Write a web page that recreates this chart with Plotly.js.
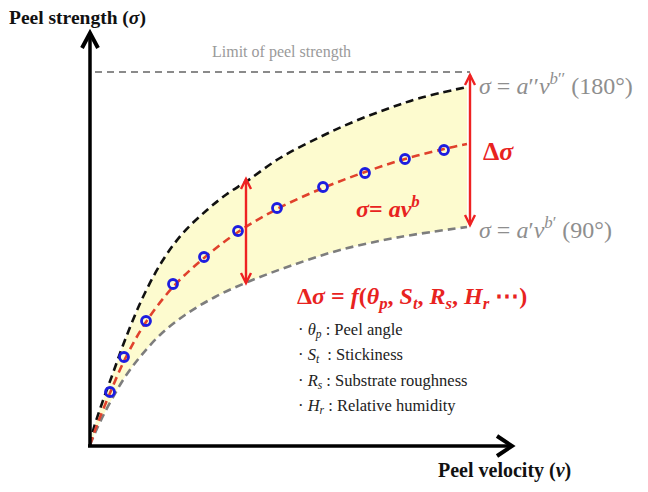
<!DOCTYPE html>
<html><head><meta charset="utf-8">
<script src="https://cdn.plot.ly/plotly-3.0.1.min.js"></script>
<style>html,body{margin:0;padding:0;background:#fff}#chart{width:648px;height:492px}</style>
</head><body><div id="chart"></div>
<script>
// Values in diagram units: velocity (v) and peel strength (sigma), origin at axes corner
const upperV = [0, 3, 10, 23, 35, 53, 73, 93, 117, 137, 157, 190, 230, 263, 297, 330, 377];
const upperS = [0, 14, 36, 72, 105, 148, 185, 212, 235, 251, 264, 287, 308, 323, 336, 347, 358];
const lowerV = [0, 5, 12, 22, 35, 50, 70, 95, 125, 160, 200, 250, 310, 377];
const lowerS = [0, 12, 27, 46, 68, 88, 110, 130, 148, 164, 179, 195, 208, 218];
const fitV = [0, 7, 20, 36, 56, 83, 114, 148, 187, 233, 275, 315, 354, 377];
const fitS = [0, 20, 52, 88, 123, 158, 187, 213, 236, 257, 273, 286, 296, 301];
const dataV = [20, 34, 56, 83, 114, 148, 187, 233, 275, 315, 354];
const dataS = [53, 88, 124, 161, 188, 214, 237, 258, 272, 286, 295];
const limitV = [5, 380];
const limitS = [373, 373];
// delta-sigma arrows: [v, top, bottom]
const deltaMid = [156, 266, 162];
const deltaEnd = [380, 370, 220];

const serif = "Liberation Serif";
const grayT = "#8e8e8e";
const redT = "#e8231f";

const traces = [
  {x: limitV, y: limitS, mode: 'lines', line: {color: '#8a8a8a', width: 2, dash: '7px,5px'}, showlegend: false},
  {x: lowerV, y: lowerS, mode: 'lines', line: {color: '#7d7d7d', width: 2.6, dash: '8px,5px', shape: 'spline'}, showlegend: false},
  {x: upperV, y: upperS, mode: 'lines', fill: 'tonexty', fillcolor: '#fdfbcf', line: {color: '#111', width: 2.6, dash: '8px,5px', shape: 'spline'}, showlegend: false},
  {x: fitV, y: fitS, mode: 'lines', line: {color: '#e0412c', width: 2.6, dash: '8px,5px', shape: 'spline'}, showlegend: false},
  {x: dataV, y: dataS, mode: 'markers', marker: {symbol: 'circle-open', size: 9, color: '#1d1de0', line: {width: 2.8, color: '#1d1de0'}}, showlegend: false}
];

const ann = [];
function txt(x, y, text, size, color, anchor){
  ann.push({x:x, y:y, xref:'x', yref:'y', text:text, showarrow:false, xanchor: anchor||'left', yanchor:'middle', font:{family: serif, size:size, color:color}});
}
txt(-83, 427, '<b>Peel strength (<i>σ</i>)</b>', 19.5, '#111');
txt(191, 393, 'Limit of peel strength', 16, '#9a9a9a', 'center');
txt(387, 361, '<i>σ</i> = <i>a</i>′′<i>v</i><sup><i>b</i>′′</sup> (180°)', 24, grayT);
txt(391, 294, '<b>Δ<i>σ</i></b>', 26, redT);
txt(264, 238, '<b><i>σ</i>= <i>av</i><sup><i>b</i></sup></b>', 24, redT);
txt(387, 217, '<i>σ</i> = <i>a</i>′<i>v</i><sup><i>b</i>′</sup> (90°)', 24, grayT);
txt(205, 147, '<b>Δ<i>σ</i> = <i>f</i>(<i>θ</i><sub><i>p</i></sub>, <i>S</i><sub><i>t</i></sub>, <i>R</i><sub><i>s</i></sub>, <i>H</i><sub><i>r</i></sub> ⋯)</b>', 24, redT);
txt(206, 115, '· <i>θ</i><sub><i>p</i></sub> : Peel angle', 16.5, '#222');
txt(206, 90, '· <i>S</i><sub><i>t</i></sub>  : Stickiness', 16.5, '#222');
txt(206, 64, '· <i>R</i><sub><i>s</i></sub> : Substrate roughness', 16.5, '#222');
txt(206, 39, '· <i>H</i><sub><i>r</i></sub> : Relative humidity', 16.5, '#222');
txt(346, -25, '<b>Peel velocity (<i>v</i>)</b>', 20, '#111');

const ax = {type:'line', xref:'x', yref:'y', line:{color:'#000', width:3.5}};
const shapes = [
  Object.assign({x0:0, y0:-2, x1:0, y1:411}, ax),
  Object.assign({x0:-2, y0:-1, x1:421, y1:-1}, ax),
  {type:'path', xref:'x', yref:'y', path:'M -8,397 L 0,412 L 8,397', line:{color:'#000', width:4}},
  {type:'path', xref:'x', yref:'y', path:'M 407,9 L 422,-1 L 407,-11', line:{color:'#000', width:4}}
];
function redArrow(d){
  const v = d[0], t = d[1], b = d[2];
  const red = {color:'#ee2222', width:2.4};
  shapes.push({type:'line', xref:'x', yref:'y', x0:v, x1:v, y0:b, y1:t, line:red});
  shapes.push({type:'path', xref:'x', yref:'y', path:`M ${v-5},${t-10} L ${v},${t} L ${v+5},${t-10}`, line:red});
  shapes.push({type:'path', xref:'x', yref:'y', path:`M ${v-5},${b+10} L ${v},${b} L ${v+5},${b+10}`, line:red});
}
redArrow(deltaMid);
redArrow(deltaEnd);

const layout = {
  width: 648, height: 492,
  margin: {l:0, r:0, t:0, b:0},
  paper_bgcolor: '#fff', plot_bgcolor: '#fff',
  xaxis: {range: [-90, 558], visible: false, fixedrange: true},
  yaxis: {range: [-47, 445], visible: false, fixedrange: true},
  annotations: ann,
  shapes: shapes,
  showlegend: false
};
Plotly.newPlot('chart', traces, layout, {displayModeBar: false, staticPlot: true});
</script></body></html>
